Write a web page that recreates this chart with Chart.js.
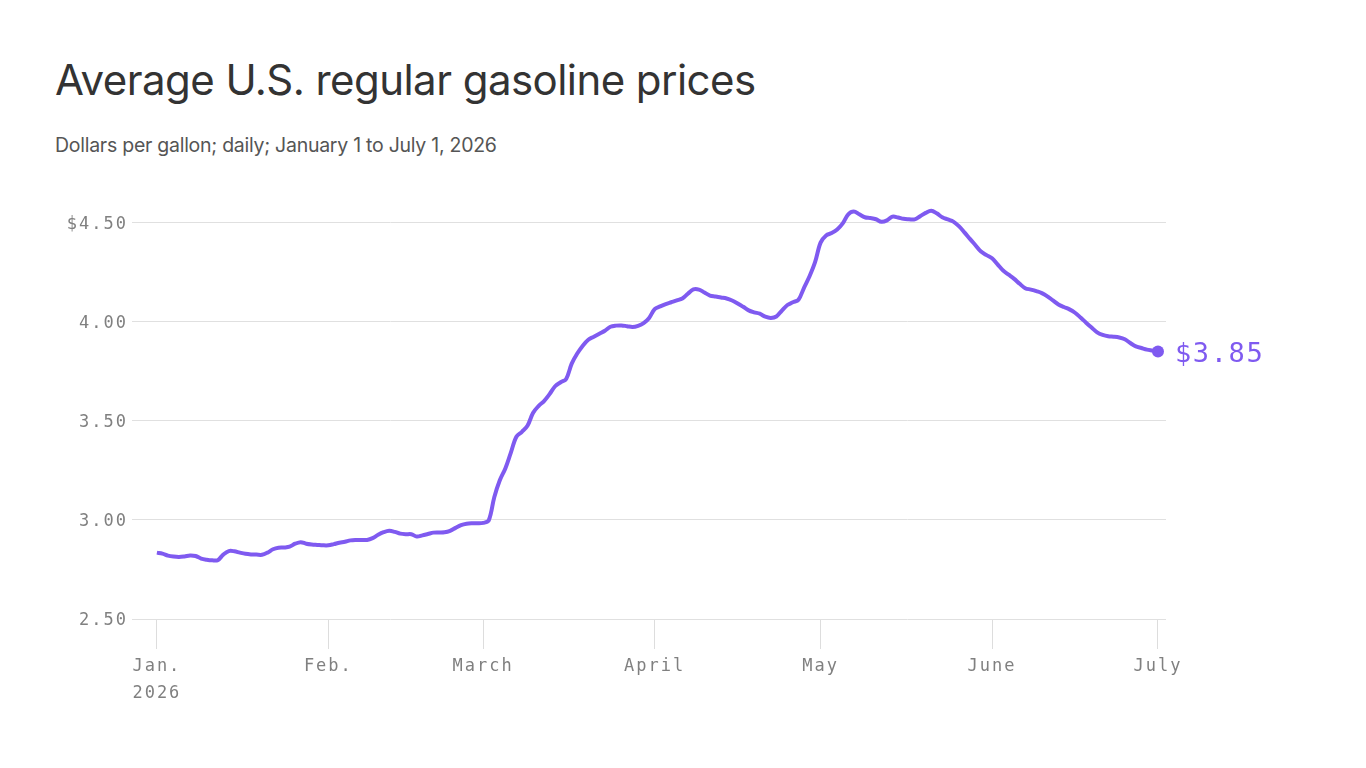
<!DOCTYPE html>
<html>
<head>
<meta charset="utf-8">
<script src="https://cdn.jsdelivr.net/npm/chart.js@4"></script>
<style>
    body { margin: 0; background: #fff; }
    #wrap { position: relative; width: 1366px; height: 768px; }
    #title {
        position: absolute; left: 55px; top: 54px;
        font-family: Inter, sans-serif; font-size: 42px; font-weight: 400;
        color: #333; letter-spacing: -0.55px; white-space: nowrap;
    }
    #subtitle {
        position: absolute; left: 55px; top: 133px;
        font-family: Inter, sans-serif; font-size: 19.5px;
        color: #555; letter-spacing: -0.26px; white-space: nowrap;
    }
    canvas { position: absolute; left: 0; top: 0; }
</style>
</head>
<body>
<div id="wrap">
    <div id="title">Average U.S. regular gasoline prices</div>
    <div id="subtitle">Dollars per gallon; daily; January 1 to July 1, 2026</div>
    <canvas id="gasChart" width="1366" height="768"></canvas>
</div>
<script>
// daily prices, Jan 1 (index 0) to July 1 (index 181)
const prices = [
    2.835, 2.83, 2.82, 2.815, 2.813, 2.816, 2.821, 2.818, 2.805, 2.799,
    2.796, 2.797, 2.825, 2.843, 2.842, 2.835, 2.829, 2.826, 2.825, 2.824,
    2.835, 2.852, 2.86, 2.861, 2.865, 2.88, 2.888, 2.88, 2.876, 2.874,
    2.872, 2.872, 2.878, 2.885, 2.89, 2.897, 2.899, 2.899, 2.899, 2.908,
    2.925, 2.938, 2.945, 2.94, 2.931, 2.928, 2.928, 2.916, 2.922, 2.929,
    2.936, 2.937, 2.938, 2.945, 2.96, 2.974, 2.981, 2.983, 2.983, 2.985,
    2.998, 3.115, 3.2, 3.26, 3.34, 3.42, 3.445, 3.475, 3.54, 3.575,
    3.6, 3.635, 3.675, 3.695, 3.712, 3.789, 3.84, 3.88, 3.91, 3.925,
    3.94, 3.955, 3.975, 3.981, 3.982, 3.978, 3.974, 3.98, 3.993, 4.02,
    4.064, 4.078, 4.09, 4.099, 4.108, 4.118, 4.142, 4.164, 4.163, 4.148,
    4.133, 4.128, 4.123, 4.118, 4.108, 4.093, 4.076, 4.058, 4.048, 4.041,
    4.026, 4.02, 4.027, 4.057, 4.085, 4.099, 4.112, 4.172, 4.23, 4.301,
    4.4, 4.436, 4.448, 4.466, 4.497, 4.543, 4.557, 4.543, 4.528, 4.524,
    4.518, 4.505, 4.512, 4.531, 4.527, 4.52, 4.518, 4.517, 4.533, 4.55,
    4.561, 4.548, 4.528, 4.517, 4.506, 4.483, 4.452, 4.419, 4.387, 4.355,
    4.337, 4.321, 4.29, 4.259, 4.238, 4.217, 4.192, 4.17, 4.163, 4.155,
    4.145, 4.129, 4.108, 4.088, 4.075, 4.063, 4.046, 4.022, 3.996, 3.971,
    3.947, 3.934, 3.927, 3.925, 3.921, 3.912, 3.893, 3.876, 3.868, 3.86,
    3.855, 3.85
];

// day index of each month start
const monthTicks = [0, 31, 59, 90, 120, 151, 181];

const monthLabels = [
    ["Jan.", "2026"], "Feb.", "March", "April", "May", "June", "July"
];

const priceTicks = [2.5, 3.0, 3.5, 4.0, 4.5];

const purple = "#7f5af0";

const points = prices.map((p, i) => ({ x: i, y: p }));

const radii = prices.map((p, i) => i === prices.length - 1 ? 6 : 0);

// spacing for the mono labels
const spacingPlugin = {
    id: "spacing",
    beforeDraw(chart) {
        chart.ctx.letterSpacing = "2px";
    }
};

// end label
const endLabelPlugin = {
    id: "endLabel",
    afterDatasetsDraw(chart) {
        const meta = chart.getDatasetMeta(0);
        const last = meta.data[meta.data.length - 1];
        const ctx = chart.ctx;
        ctx.save();
        ctx.letterSpacing = "1.6px";
        ctx.font = "27px 'DejaVu Sans Mono', monospace";
        ctx.fillStyle = purple;
        ctx.textBaseline = "middle";
        ctx.fillText("$" + prices[prices.length - 1].toFixed(2), last.x + 17, last.y + 3);
        ctx.restore();
    }
};

new Chart(document.getElementById("gasChart"), {
    type: "line",
    data: {
        datasets: [{
            data: points,
            borderColor: purple,
            backgroundColor: purple,
            borderWidth: 4,
            tension: 0.35,
            pointRadius: radii,
            pointHoverRadius: radii,
            pointBorderWidth: 0,
            clip: false
        }]
    },
    options: {
        responsive: false,
        animation: false,
        events: [],
        layout: {
            padding: { left: 55, right: 200, top: 203, bottom: 0 }
        },
        plugins: {
            legend: { display: false },
            tooltip: { enabled: false }
        },
        scales: {
            x: {
                type: "linear",
                min: -4.5,
                max: 182.45,
                afterBuildTicks(scale) {
                    scale.ticks = monthTicks.map(v => ({ value: v }));
                },
                afterFit(scale) {
                    scale.height = 149;
                },
                grid: {
                    drawOnChartArea: false,
                    drawTicks: true,
                    tickLength: 30,
                    color: "#dddddd"
                },
                border: { display: false },
                ticks: {
                    autoSkip: false,
                    maxRotation: 0,
                    padding: 4,
                    color: "#808080",
                    font: { family: "'DejaVu Sans Mono', monospace", size: 17, lineHeight: 1.6 },
                    callback(value) {
                        return monthLabels[monthTicks.indexOf(value)];
                    }
                }
            },
            y: {
                min: 2.5,
                max: 4.6,
                afterBuildTicks(scale) {
                    scale.ticks = priceTicks.map(v => ({ value: v }));
                },
                afterFit(scale) {
                    scale.width = 77;
                },
                grid: {
                    drawTicks: false,
                    color: "#e0e0e0"
                },
                border: { display: false },
                ticks: {
                    padding: 4,
                    labelOffset: 2,
                    color: "#808080",
                    font: { family: "'DejaVu Sans Mono', monospace", size: 17 },
                    callback(value) {
                        return (value === 4.5 ? "$" : "") + value.toFixed(2);
                    }
                }
            }
        }
    },
    plugins: [spacingPlugin, endLabelPlugin]
});
</script>
</body>
</html>
